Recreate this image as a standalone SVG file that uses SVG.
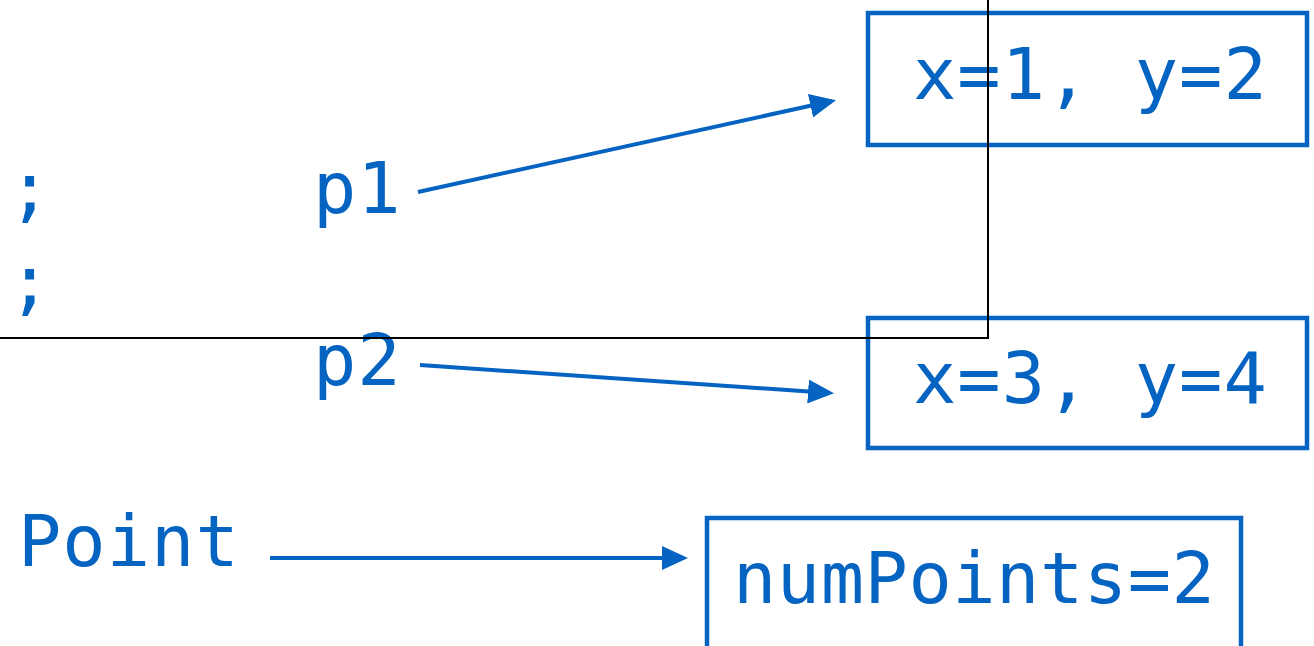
<svg xmlns="http://www.w3.org/2000/svg" width="1314" height="646" viewBox="0 0 1314 646">
  <style>
    .code { font-family: "DejaVu Sans Mono", "Liberation Mono", monospace; font-size: 72px; fill: #0563C1; letter-spacing: 1px; }
    .box { fill: none; stroke: #0563C1; stroke-width: 4.5; }
    .ref { stroke: #0563C1; stroke-width: 4; fill: none; marker-end: url(#arrow); }
    .frame { fill: none; stroke: #000000; stroke-width: 2; }
  </style>
  <defs>
    <marker id="arrow" viewBox="0 0 26 24" refX="22" refY="12" markerWidth="26" markerHeight="24" markerUnits="userSpaceOnUse" orient="auto">
      <path d="M0,0 L26,12 L0,24 Z" fill="#0563C1"/>
    </marker>
  </defs>

  <rect width="1314" height="646" fill="#ffffff"/>

  <!-- statement terminators from the code listing -->
  <g id="code-lines">
    <text class="code" x="8" y="213">;</text>
    <text class="code" x="8" y="306">;</text>
  </g>

  <!-- variable labels -->
  <g id="var-p1"><text class="code" x="313" y="213">p1</text></g>
  <g id="var-p2"><text class="code" x="313" y="385">p2</text></g>
  <g id="class-point"><text class="code" x="18" y="566">Point</text></g>

  <!-- heap objects -->
  <g id="obj-p1">
    <rect class="box" x="868" y="13" width="439" height="132"/>
    <text class="code" x="913" y="99">x=1, y=2</text>
  </g>
  <g id="obj-p2">
    <rect class="box" x="868" y="318" width="439" height="130"/>
    <text class="code" x="913" y="403">x=3, y=4</text>
  </g>
  <g id="static-point">
    <rect class="box" x="707" y="518" width="534" height="140"/>
    <text class="code" x="733" y="603" style="letter-spacing:0.5px">numPoints=2</text>
  </g>

  <!-- references -->
  <g id="connectors">
    <line class="ref" x1="418" y1="192" x2="832" y2="101"/>
    <line class="ref" x1="420" y1="365" x2="830" y2="393"/>
    <line class="ref" x1="270" y1="558" x2="684" y2="558"/>
  </g>

  <!-- stack frame outline -->
  <g id="frame">
    <polyline class="frame" points="0,338 988,338 988,0"/>
  </g>
</svg>
